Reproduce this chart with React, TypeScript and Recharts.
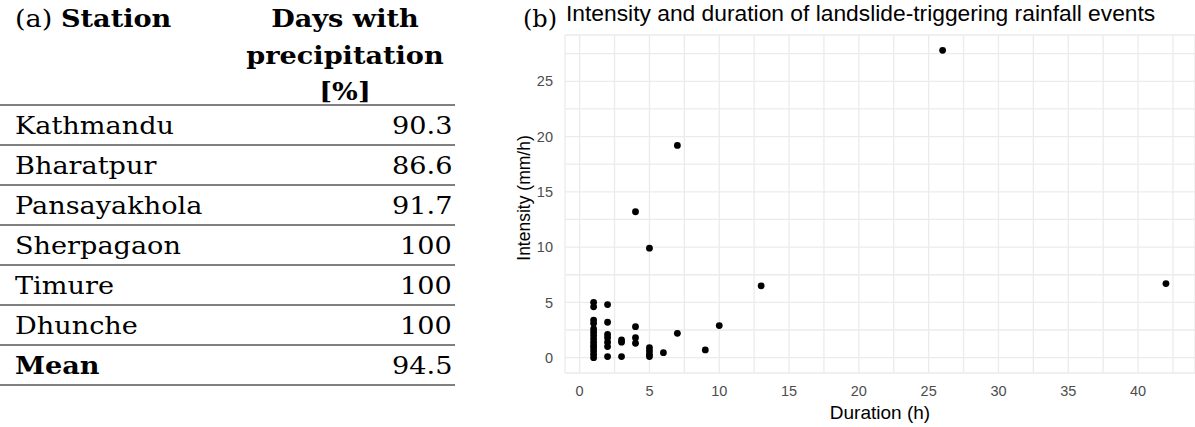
import React from 'react';
import { ScatterChart, Scatter, XAxis, YAxis, CartesianGrid } from 'recharts';

// ---- Table (a) data ----
const stations = ['Kathmandu', 'Bharatpur', 'Pansayakhola', 'Sherpagaon', 'Timure', 'Dhunche'];
const daysWithPrecipitation = ['90.3', '86.6', '91.7', '100', '100', '100'];
const meanLabel = 'Mean';
const meanValue = '94.5';
const headerCol1 = 'Station';
const headerCol2Lines = ['Days with', 'precipitation', '[%]'];

// ---- Scatter (b) data ----
const durationH = [
  1, 1, 1, 1, 1, 1, 1, 1, 1, 1, 1, 1, 1, 1,
  2, 2, 2, 2, 2, 2, 2,
  3, 3, 3,
  4, 4, 4, 4,
  5, 5, 5, 5, 5,
  6,
  7, 7,
  9,
  10,
  13,
  26,
  42,
];
const intensityMmH = [
  5.0, 4.6, 3.4, 3.1, 2.6, 2.3, 2.0, 1.7, 1.4, 1.1, 0.9, 0.6, 0.3, 0.0,
  4.8, 3.2, 2.1, 1.8, 1.4, 1.0, 0.1,
  1.6, 1.4, 0.1,
  13.2, 2.8, 1.8, 1.3,
  9.9, 0.9, 0.6, 0.3, 0.1,
  0.45,
  19.2, 2.2,
  0.7,
  2.9,
  6.5,
  27.8,
  6.7,
];
const xTicks = [0, 2.5, 5, 7.5, 10, 12.5, 15, 17.5, 20, 22.5, 25, 27.5, 30, 32.5, 35, 37.5, 40, 42.5];
const yTicks = [0, 2.5, 5, 7.5, 10, 12.5, 15, 17.5, 20, 22.5, 25, 27.5];
const chartTitle = 'Intensity and duration of landslide-triggering rainfall events';
const xLabel = 'Duration (h)';
const yLabel = 'Intensity (mm/h)';

const points = durationH.map((d, i) => ({ duration: d, intensity: intensityMmH[i] }));

const serif = '"DejaVu Serif", serif';
const sans = '"Liberation Sans", Arial, sans-serif';
const ROW_H = 40;
const TABLE_W = 455;
const FS = 24;
const SX = 1.13;

const majorFmt = (v: number) => (v % 5 === 0 ? String(v) : '');

const Dot = (props: any) => <circle cx={props.cx} cy={props.cy} r={3.4} fill="#000" />;

const cellBase: React.CSSProperties = {
  position: 'absolute',
  height: 32,
  lineHeight: '32px',
  fontFamily: serif,
  fontSize: FS,
  color: '#000',
  whiteSpace: 'nowrap',
};

export default function App() {
  const rowTop = 105;
  const rows = [
    ...stations.map((s, i) => ({ name: s, value: daysWithPrecipitation[i], bold: false })),
    { name: meanLabel, value: meanValue, bold: true },
  ];
  return (
    <div style={{ position: 'absolute', left: 0, top: 0, width: 1195, height: 427, background: '#fff', overflow: 'hidden' }}>
      {/* Table (a) */}
      <div style={{ ...cellBase, left: 15, top: 3, transform: `scaleX(${SX})`, transformOrigin: '0 50%' }}>
        (a) <b>{headerCol1}</b>
      </div>
      {headerCol2Lines.map((t, i) => (
        <div
          key={t}
          style={{ ...cellBase, left: 245, width: 200, top: 3 + i * 36.5, textAlign: 'center', fontWeight: 'bold', transform: `scaleX(${SX})`, transformOrigin: '50% 50%' }}
        >
          {t}
        </div>
      ))}
      <div style={{ position: 'absolute', left: 0, top: rowTop - 1, width: TABLE_W, height: 2, background: '#7f7f7f' }} />
      {rows.map((r, i) => (
        <React.Fragment key={r.name}>
          <div style={{ ...cellBase, left: 15, top: rowTop + i * ROW_H + 5, fontWeight: r.bold ? 'bold' : 'normal', transform: `scaleX(${SX})`, transformOrigin: '0 50%' }}>
            {r.name}
          </div>
          <div style={{ ...cellBase, right: 1195 - 452, top: rowTop + i * ROW_H + 5, textAlign: 'right', transform: `scaleX(${SX})`, transformOrigin: '100% 50%' }}>
            {r.value}
          </div>
          <div style={{ position: 'absolute', left: 0, top: rowTop + (i + 1) * ROW_H - 1, width: TABLE_W, height: 2, background: '#7f7f7f' }} />
        </React.Fragment>
      ))}

      {/* Panel (b) titles */}
      <div style={{ ...cellBase, left: 523, top: 3 }}>(b)</div>
      <div style={{ position: 'absolute', left: 566, top: 0, height: 26, lineHeight: '26px', fontFamily: sans, fontSize: 22.8, color: '#000', whiteSpace: 'nowrap' }}>
        {chartTitle}
      </div>

      {/* Scatter chart */}
      <div style={{ position: 'absolute', left: 480, top: 0 }}>
        <ScatterChart width={715} height={427} margin={{ top: 35, right: 0, bottom: 24, left: 25 }}>
          <CartesianGrid stroke="#EBEBEB" strokeWidth={1.3} />
          <XAxis
            type="number"
            dataKey="duration"
            domain={[-1.05, 44.08]}
            ticks={xTicks}
            tickFormatter={majorFmt}
            axisLine={false}
            tickLine={false}
            tickSize={0}
            tickMargin={13}
            allowDataOverflow
            interval={0}
            tick={{ fill: '#4D4D4D', fontSize: 14.5, fontFamily: sans }}
          />
          <YAxis
            type="number"
            dataKey="intensity"
            width={60}
            domain={[-1.39, 29.19]}
            ticks={yTicks}
            tickFormatter={majorFmt}
            axisLine={false}
            tickLine={false}
            tickSize={0}
            tickMargin={12}
            allowDataOverflow
            interval={0}
            tick={{ fill: '#4D4D4D', fontSize: 14.5, fontFamily: sans }}
          />
          <Scatter data={points} fill="#000" shape={Dot} isAnimationActive={false} />
        </ScatterChart>
      </div>

      {/* Axis titles */}
      <div style={{ position: 'absolute', left: 880 - 100, width: 200, top: 403, height: 20, lineHeight: '20px', textAlign: 'center', fontFamily: sans, fontSize: 19, color: '#000', whiteSpace: 'nowrap' }}>
        {xLabel}
      </div>
      <div
        style={{
          position: 'absolute',
          left: 524 - 100,
          width: 200,
          top: 198 - 10,
          height: 20,
          lineHeight: '20px',
          textAlign: 'center',
          fontFamily: sans,
          fontSize: 17.5,
          color: '#000',
          transform: 'rotate(-90deg)',
          transformOrigin: '50% 50%',
          whiteSpace: 'nowrap',
        }}
      >
        {yLabel}
      </div>
    </div>
  );
}
